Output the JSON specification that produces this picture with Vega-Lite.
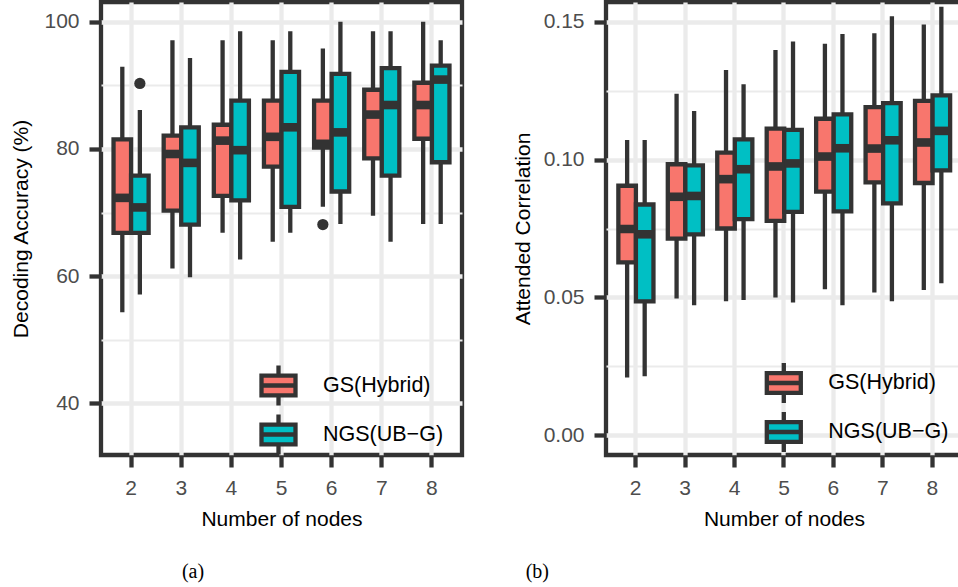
{
  "$schema": "https://vega.github.io/schema/vega-lite/v6.json",
  "autosize": {"type": "pad"},
  "padding": {"left": 8, "top": -1, "right": -6, "bottom": 0},
  "background": "white",
  "datasets": {
    "acc": [
      {"nodes": 2, "method": "GS(Hybrid)", "lo": 54.3, "q1": 66.8, "med": 72.3, "q3": 81.5, "hi": 92.9},
      {"nodes": 2, "method": "NGS(UB−G)", "lo": 57.1, "q1": 66.8, "med": 70.8, "q3": 75.8, "hi": 86.1},
      {"nodes": 3, "method": "GS(Hybrid)", "lo": 61.2, "q1": 70.3, "med": 79.2, "q3": 82.1, "hi": 97.1},
      {"nodes": 3, "method": "NGS(UB−G)", "lo": 59.8, "q1": 68.1, "med": 77.8, "q3": 83.4, "hi": 94.3},
      {"nodes": 4, "method": "GS(Hybrid)", "lo": 66.8, "q1": 72.6, "med": 81.3, "q3": 83.8, "hi": 97.1},
      {"nodes": 4, "method": "NGS(UB−G)", "lo": 62.6, "q1": 71.9, "med": 79.8, "q3": 87.6, "hi": 98.5},
      {"nodes": 5, "method": "GS(Hybrid)", "lo": 65.4, "q1": 77.2, "med": 81.9, "q3": 87.6, "hi": 97.1},
      {"nodes": 5, "method": "NGS(UB−G)", "lo": 66.8, "q1": 70.9, "med": 83.4, "q3": 92.1, "hi": 98.5},
      {"nodes": 6, "method": "GS(Hybrid)", "lo": 70.9, "q1": 80.2, "med": 80.8, "q3": 87.6, "hi": 95.8},
      {"nodes": 6, "method": "NGS(UB−G)", "lo": 68.2, "q1": 73.3, "med": 82.6, "q3": 91.8, "hi": 100},
      {"nodes": 7, "method": "GS(Hybrid)", "lo": 69.5, "q1": 78.5, "med": 85.4, "q3": 89.3, "hi": 98.5},
      {"nodes": 7, "method": "NGS(UB−G)", "lo": 65.4, "q1": 75.8, "med": 86.9, "q3": 92.7, "hi": 98.5},
      {"nodes": 8, "method": "GS(Hybrid)", "lo": 68.2, "q1": 81.6, "med": 86.9, "q3": 90.4, "hi": 100},
      {"nodes": 8, "method": "NGS(UB−G)", "lo": 68.2, "q1": 77.9, "med": 90.9, "q3": 93.1, "hi": 97.1}
    ],
    "accOut": [
      {"nodes": 2, "method": "NGS(UB−G)", "v": 90.3},
      {"nodes": 6, "method": "GS(Hybrid)", "v": 68.1}
    ],
    "cor": [
      {"nodes": 2, "method": "GS(Hybrid)", "lo": 0.021, "q1": 0.0627, "med": 0.0748, "q3": 0.0905, "hi": 0.1071},
      {"nodes": 2, "method": "NGS(UB−G)", "lo": 0.0214, "q1": 0.0486, "med": 0.0729, "q3": 0.0837, "hi": 0.1071},
      {"nodes": 3, "method": "GS(Hybrid)", "lo": 0.0496, "q1": 0.0713, "med": 0.0865, "q3": 0.0983, "hi": 0.1239},
      {"nodes": 3, "method": "NGS(UB−G)", "lo": 0.0472, "q1": 0.0729, "med": 0.0868, "q3": 0.0979, "hi": 0.1176},
      {"nodes": 4, "method": "GS(Hybrid)", "lo": 0.0486, "q1": 0.075, "med": 0.0929, "q3": 0.1025, "hi": 0.1325},
      {"nodes": 4, "method": "NGS(UB−G)", "lo": 0.0491, "q1": 0.0784, "med": 0.0965, "q3": 0.1073, "hi": 0.1273},
      {"nodes": 5, "method": "GS(Hybrid)", "lo": 0.05, "q1": 0.0778, "med": 0.0975, "q3": 0.1112, "hi": 0.1397},
      {"nodes": 5, "method": "NGS(UB−G)", "lo": 0.0482, "q1": 0.081, "med": 0.0986, "q3": 0.1108, "hi": 0.1428},
      {"nodes": 6, "method": "GS(Hybrid)", "lo": 0.053, "q1": 0.0884, "med": 0.1011, "q3": 0.1148, "hi": 0.142},
      {"nodes": 6, "method": "NGS(UB−G)", "lo": 0.0472, "q1": 0.0812, "med": 0.1041, "q3": 0.1164, "hi": 0.1455},
      {"nodes": 7, "method": "GS(Hybrid)", "lo": 0.0518, "q1": 0.0917, "med": 0.104, "q3": 0.119, "hi": 0.1458},
      {"nodes": 7, "method": "NGS(UB−G)", "lo": 0.0486, "q1": 0.0841, "med": 0.107, "q3": 0.1205, "hi": 0.152},
      {"nodes": 8, "method": "GS(Hybrid)", "lo": 0.0527, "q1": 0.0915, "med": 0.1062, "q3": 0.1213, "hi": 0.149},
      {"nodes": 8, "method": "NGS(UB−G)", "lo": 0.0551, "q1": 0.0961, "med": 0.1104, "q3": 0.1233, "hi": 0.1554}
    ]
  },
  "spacing": 144,
  "bounds": "flush",
  "hconcat": [
    {
      "width": 361,
      "height": 453,
      "title": {"text": "(a)", "orient": "bottom", "anchor": "middle", "dx": -88.5, "offset": 33, "font": "Liberation Serif", "fontSize": 20, "fontWeight": "normal", "color": "black"},
      "encoding": {
        "x": {"field": "nodes", "type": "ordinal", "title": "Number of nodes", "scale": {"paddingInner": 0.3, "paddingOuter": 0.25}},
        "xOffset": {"field": "method", "type": "nominal", "scale": {"paddingInner": 0, "paddingOuter": 0}}
      },
      "layer": [
        {
          "data": {"name": "acc"},
          "mark": {"type": "rule", "color": "#333333", "strokeWidth": 4.3},
          "encoding": {
            "y": {"field": "lo", "type": "quantitative", "title": "Decoding Accuracy (%)",
              "scale": {"domain": [31.87, 103.1], "nice": false, "zero": false},
              "axis": {
                "values": [40, 50, 60, 70, 80, 90, 100],
                "labelExpr": "datum.value % 20 == 0 ? datum.label : ''",
                "gridWidth": {"condition": {"test": "datum.value % 20 == 0", "value": 4.3}, "value": 2.15},
                "tickOpacity": {"condition": {"test": "datum.value % 20 == 0", "value": 1}, "value": 0},
                "titlePadding": 12
              }
            },
            "y2": {"field": "hi"}
          }
        },
        {
          "data": {"name": "acc"},
          "mark": {"type": "bar", "stroke": "#333333", "strokeWidth": 4.3, "opacity": 1},
          "encoding": {
            "y": {"field": "q1", "type": "quantitative", "title": "Decoding Accuracy (%)"},
            "y2": {"field": "q3"},
            "color": {"field": "method", "type": "nominal",
              "scale": {"domain": ["GS(Hybrid)", "NGS(UB−G)"], "range": ["#F8766D", "#00BFC4"]},
              "legend": {"title": null, "orient": "none", "legendX": 158, "legendY": 364}
            }
          }
        },
        {
          "data": {"name": "acc"},
          "mark": {"type": "tick", "color": "#333333", "size": 17.5, "thickness": 8.6, "orient": "horizontal", "opacity": 1},
          "encoding": {
            "y": {"field": "med", "type": "quantitative", "title": "Decoding Accuracy (%)"}
          }
        },
        {
          "data": {"name": "accOut"},
          "mark": {"type": "point", "filled": true, "color": "#333333", "size": 127, "opacity": 1},
          "encoding": {
            "y": {"field": "v", "type": "quantitative", "title": "Decoding Accuracy (%)"}
          }
        }
      ]
    },
    {
      "width": 356,
      "height": 453,
      "title": {"text": "(b)", "orient": "bottom", "anchor": "middle", "dx": -246.7, "offset": 33, "font": "Liberation Serif", "fontSize": 20, "fontWeight": "normal", "color": "black"},
      "encoding": {
        "x": {"field": "nodes", "type": "ordinal", "title": "Number of nodes", "scale": {"paddingInner": 0.3, "paddingOuter": 0.25}},
        "xOffset": {"field": "method", "type": "nominal", "scale": {"paddingInner": 0, "paddingOuter": 0}}
      },
      "layer": [
        {
          "data": {"name": "cor"},
          "mark": {"type": "rule", "color": "#333333", "strokeWidth": 4.3},
          "encoding": {
            "y": {"field": "lo", "type": "quantitative", "title": "Attended Correlation",
              "scale": {"domain": [-0.00715, 0.15715], "nice": false, "zero": false},
              "axis": {
                "values": [0, 0.025, 0.05, 0.075, 0.1, 0.125, 0.15],
                "labelExpr": "round(datum.value * 1000) % 50 == 0 ? format(datum.value, '.2f') : ''",
                "gridWidth": {"condition": {"test": "round(datum.value * 1000) % 50 == 0", "value": 4.3}, "value": 2.15},
                "tickOpacity": {"condition": {"test": "round(datum.value * 1000) % 50 == 0", "value": 1}, "value": 0},
                "titlePadding": 10
              }
            },
            "y2": {"field": "hi"}
          }
        },
        {
          "data": {"name": "cor"},
          "mark": {"type": "bar", "stroke": "#333333", "strokeWidth": 4.3, "opacity": 1},
          "encoding": {
            "y": {"field": "q1", "type": "quantitative", "title": "Attended Correlation"},
            "y2": {"field": "q3"},
            "color": {"field": "method", "type": "nominal",
              "scale": {"domain": ["GS(Hybrid)", "NGS(UB−G)"], "range": ["#F8766D", "#00BFC4"]},
              "legend": {"title": null, "orient": "none", "legendX": 158.3, "legendY": 361.5}
            }
          }
        },
        {
          "data": {"name": "cor"},
          "mark": {"type": "tick", "color": "#333333", "size": 17.5, "thickness": 8.6, "orient": "horizontal", "opacity": 1},
          "encoding": {
            "y": {"field": "med", "type": "quantitative", "title": "Attended Correlation"}
          }
        }
      ]
    }
  ],
  "resolve": {"scale": {"color": "independent"}},
  "config": {
    "view": {"stroke": "#333333", "strokeWidth": 4.3, "fill": "white"},
    "axis": {
      "domain": false,
      "tickColor": "#333333",
      "tickWidth": 4.3,
      "tickSize": 12,
      "labelColor": "#4D4D4D",
      "labelFont": "Liberation Sans",
      "labelFontSize": 21,
      "labelPadding": 10,
      "titleFont": "Liberation Sans",
      "titleFontSize": 21,
      "titleFontWeight": "normal",
      "titleColor": "black",
      "gridColor": "#EBEBEB",
      "gridWidth": 4.3,
      "grid": true
    },
    "axisX": {"labelAngle": 0, "bandPosition": 0.5, "titlePadding": 10, "grid": true},
    "legend": {
      "symbolType": "M-1,-0.58H1V0.58H-1Z M-1,0H1 M0,-0.58V-1.18 M0,0.58V1.18",
      "symbolSize": 1156,
      "symbolStrokeColor": "#333333",
      "symbolStrokeWidth": 4.3,
      "symbolFillOpacity": 1,
      "symbolOpacity": 1,
      "labelFont": "Liberation Sans",
      "labelFontSize": 21.5,
      "labelColor": "black",
      "labelOffset": 25,
      "rowPadding": -14,
      "padding": 0
    }
  }
}
